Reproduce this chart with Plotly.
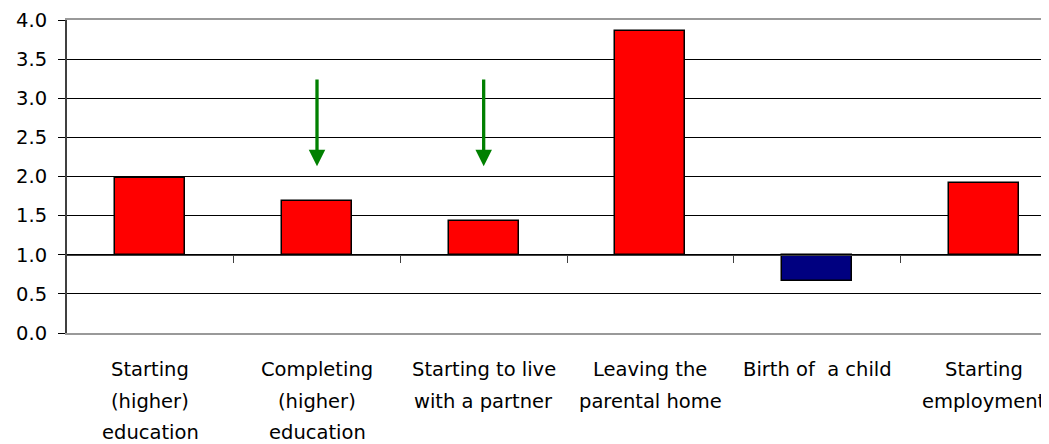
import plotly.graph_objects as go

# ---- data ----
categories = [
    "Starting\n(higher)\neducation",
    "Completing\n(higher)\neducation",
    "Starting to live\nwith a partner",
    "Leaving the\nparental home",
    "Birth of  a child",
    "Starting\nemployment",
]
values = [1.98, 1.69, 1.43, 3.86, 0.66, 1.92]
baseline = 1.0
bar_colors = ["#FF0000", "#FF0000", "#FF0000", "#FF0000", "#000080", "#FF0000"]

arrow_categories = [1, 2]      # indices of categories with a green arrow
arrow_start = [3.26, 3.26]
arrow_end = [2.13, 2.13]

y_ticks = [0.0, 0.5, 1.0, 1.5, 2.0, 2.5, 3.0, 3.5, 4.0]
y_ticktext = ["0.0", "0.5", "1.0", "1.5", "2.0", "2.5", "3.0", "3.5", "4.0"]

FONT = "DejaVu Sans"
FS = 19.5

xs = list(range(len(categories)))
heights = [v - baseline for v in values]

fig = go.Figure()
fig.add_trace(go.Bar(
    x=xs, y=heights, base=[baseline] * len(values),
    width=0.42,
    marker=dict(color=bar_colors, line=dict(color="#000000", width=1.5)),
    showlegend=False, hoverinfo="skip",
))
# dummy trace on xaxis2 so it gets rendered
fig.add_trace(go.Scatter(x=[0], y=[None], xaxis="x2", yaxis="y",
                         mode="markers", showlegend=False, hoverinfo="skip"))

xr = [-0.5, 5.392]
annotations = []
# category labels, one annotation per line
for i, lab in enumerate(categories):
    for k, line in enumerate(lab.split("\n")):
        annotations.append(dict(
            x=i, xref="x", y=0, yref="paper", text=line, showarrow=False,
            xanchor="center", yanchor="middle", yshift=-(36.5 + k * 31.5),
            font=dict(family=FONT, size=FS, color="#000000"),
        ))
# green arrows
for ci, ys, ye in zip(arrow_categories, arrow_start, arrow_end):
    annotations.append(dict(
        x=ci, y=ye, xref="x", yref="y",
        ax=ci, ay=ys, axref="x", ayref="y",
        showarrow=True, arrowhead=2, arrowsize=1.0, arrowwidth=3.3,
        arrowcolor="#008000", text="", standoff=0,
    ))

# page body has an 8px margin, so the figure is sized to fill the rest
fig.update_layout(
    width=1041, height=436,
    margin=dict(l=58.7, r=0, t=12, b=111, autoexpand=False),
    paper_bgcolor="#FFFFFF", plot_bgcolor="#FFFFFF",
    bargap=0,
    annotations=annotations,
    xaxis=dict(
        range=xr, showticklabels=False, ticks="", showgrid=False, zeroline=False,
        showline=True, linecolor="#999999", linewidth=2, mirror=True,
        automargin=False,
    ),
    xaxis2=dict(
        range=xr, overlaying="x", anchor="free", position=0.25,
        tickmode="array", tickvals=[0.5, 1.5, 2.5, 3.5, 4.5],
        ticks="outside", ticklen=7, tickwidth=1, tickcolor="#404040",
        showticklabels=False, showgrid=False, zeroline=False,
        showline=True, linecolor="#404040", linewidth=1,
        automargin=False,
    ),
    yaxis=dict(
        range=[0, 4], tickmode="array", tickvals=y_ticks, ticktext=y_ticktext,
        ticks="outside", ticklen=7, tickwidth=1, tickcolor="#000000",
        showgrid=True, gridcolor="#000000", gridwidth=1, zeroline=False,
        showline=True, linecolor="#404040", linewidth=2,
        tickfont=dict(family=FONT, size=FS, color="#000000"),
        ticklabelstandoff=7, automargin=False,
    ),
)

fig.write_html("out.html")
